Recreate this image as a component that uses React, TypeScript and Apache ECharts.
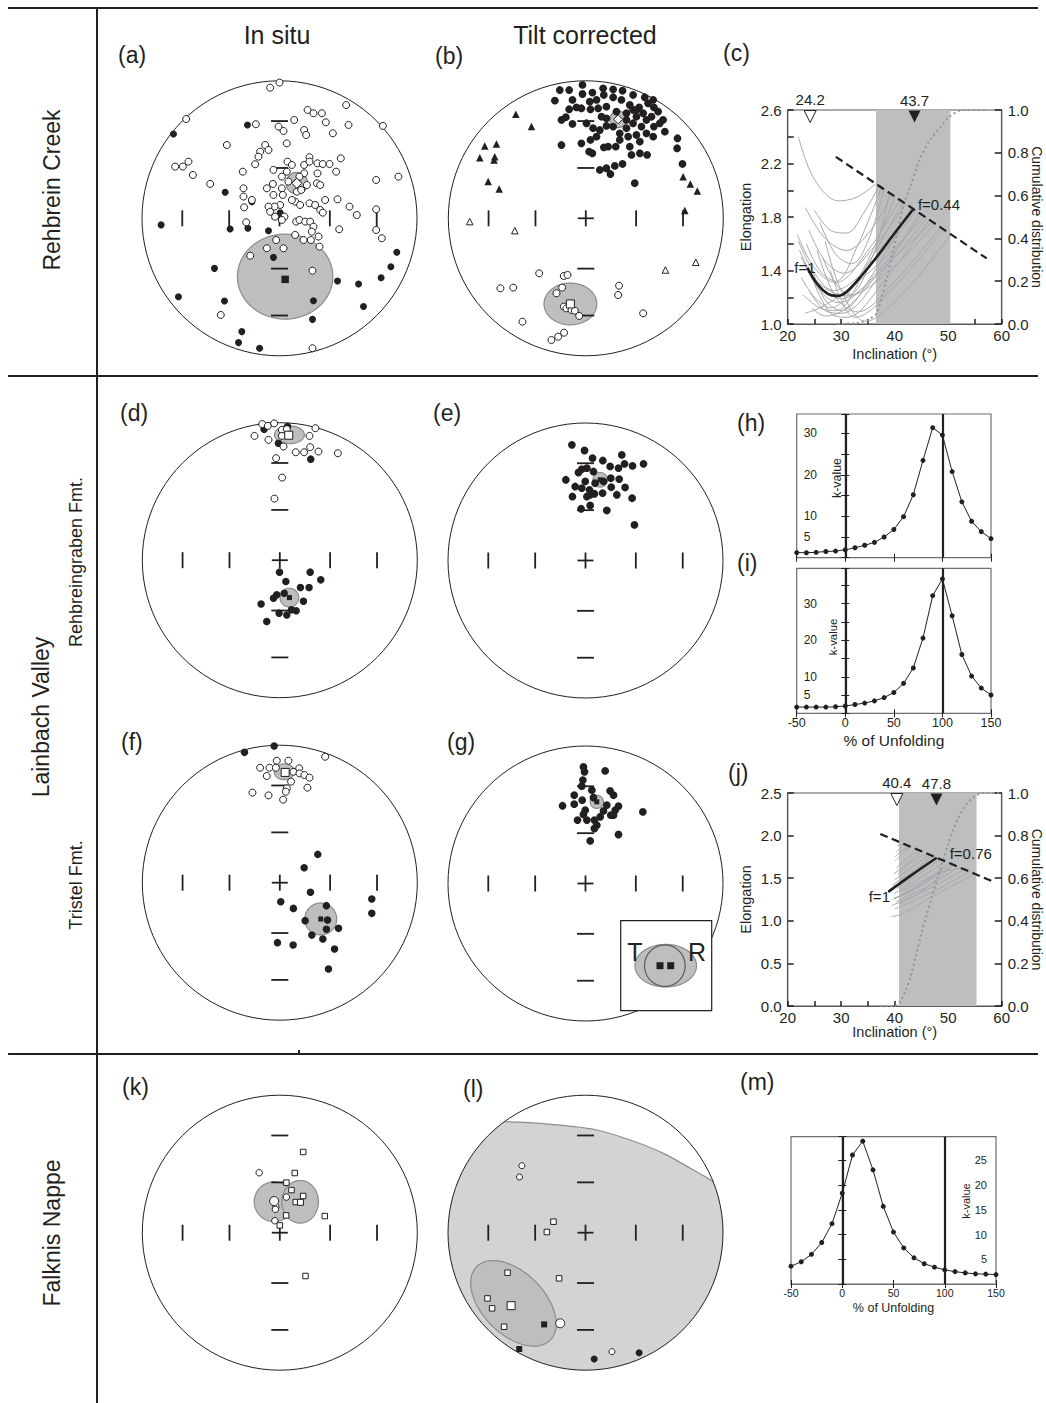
import { useEffect, useRef } from "react";
import * as echarts from "echarts";

type Pt = [number, number];
// centre x, centre y, semi-axis x, semi-axis y, rotation (deg, counter-clockwise)
type Cone = [number, number, number, number, number];

const INK = "#231f20";
const FRAME = "#58595b";
const FONT = "'Liberation Sans', Arial, Helvetica, sans-serif";
const CONE_FILL = "#bcbec0";
const CONE_EDGE = "#8a8c8f";
const REGION_FILL = "#d1d3d4";
const CURVE = "#a7a9ac";
const CDF = "#939598";

// inclinations marked by the ticks on every equal-area net
const TICK_INC = [60, 30];

/* ---------------- (a) Rehbrein Creek, in situ ---------------- */
const aOpen: Pt[] = [
  [-0.068, 0.95], [0.0, 0.987], [-0.679, 0.722], [-0.172, 0.684], [0.107, 0.715], [0.204, 0.788], [0.247, 0.764],
  [0.308, 0.764], [0.337, 0.698], [0.502, 0.679], [0.485, 0.824], [0.388, 0.618], [-0.007, 0.667], [0.029, 0.635],
  [0.179, 0.642], [0.194, 0.606], [-0.383, 0.533], [-0.104, 0.533], [-0.141, 0.485], [-0.153, 0.448], [-0.177, 0.393],
  [-0.08, 0.497], [0.053, 0.545], [-0.759, 0.376], [-0.703, 0.376], [-0.662, 0.412], [-0.63, 0.315], [-0.504, 0.25],
  [-0.267, 0.339], [0.058, 0.412], [0.09, 0.388], [0.179, 0.388], [0.218, 0.444], [0.218, 0.412], [0.276, 0.4],
  [0.315, 0.395], [0.364, 0.395], [0.446, 0.436], [0.412, 0.339], [0.276, 0.327], [0.272, 0.255], [0.296, 0.242],
  [0.179, 0.327], [0.145, 0.303], [0.126, 0.259], [-0.262, 0.218], [-0.262, 0.158], [-0.257, 0.08], [-0.201, 0.133],
  [-0.092, 0.218], [-0.048, 0.25], [-0.044, 0.17], [0.017, 0.218], [0.024, 0.17], [0.126, 0.194], [0.158, 0.206],
  [0.199, 0.242], [0.114, 0.121], [0.005, 0.097], [-0.036, 0.085], [-0.08, 0.085], [-0.068, 0.048], [-0.032, 0.012],
  [0.036, 0.012], [0.017, -0.012], [0.09, 0.133], [0.15, 0.097], [0.218, 0.109], [0.259, 0.097], [0.296, 0.061],
  [0.315, 0.041], [0.332, 0.133], [0.422, 0.138], [0.509, 0.085], [0.562, 0.024], [0.703, 0.279], [0.703, 0.065],
  [0.703, -0.085], [0.744, -0.145], [0.865, 0.303], [0.121, -0.024], [0.145, -0.012], [0.187, -0.024], [0.223, -0.024],
  [0.247, -0.061], [0.235, -0.097], [0.284, -0.133], [0.175, -0.158], [0.114, -0.121], [0.228, -0.158], [0.291, -0.206],
  [0.434, -0.08], [-0.242, -0.029], [-0.024, -0.158], [0.029, -0.218], [-0.092, -0.218], [-0.213, -0.272], [0.24, -0.381],
  [-0.427, -0.703], [0.24, -0.945], [0.752, 0.672], [0.053, 0.339], [-0.044, 0.352], [0.017, 0.303], [0.065, 0.267],
];
const aSolid: Pt[] = [
  [-0.233, 0.679], [-0.771, 0.613], [-0.395, 0.189], [-0.861, -0.048], [-0.359, -0.078], [-0.23, -0.073], [-0.08, -0.09],
  [-0.044, -0.284], [-0.473, -0.364], [-0.735, -0.57], [-0.4, -0.601], [-0.274, -0.824], [-0.298, -0.904], [-0.145, -0.945],
  [0.422, -0.456], [0.575, -0.478], [0.739, -0.432], [0.81, -0.352], [0.853, -0.247], [0.247, -0.599], [0.24, -0.735],
  [0.611, -0.642], [0.005, 0.041], [-0.201, 0.121],
];
const aConesWide: Cone[] = [[0.041, -0.424, 0.347, 0.309, 0]];
const aConesSmall: Cone[] = [[0.126, 0.255, 0.078, 0.078, 0]];
const aMeanSolid: Pt[] = [[0.041, -0.444]];
const aMeanOpen: Pt[] = [[0.126, 0.255]];

/* ---------------- (b) Rehbrein Creek, tilt corrected ---------------- */
const bSolid: Pt[] = [
  [-0.189, 0.933], [-0.121, 0.933], [-0.225, 0.856], [-0.024, 0.97], [0.048, 0.914], [0.126, 0.945], [0.199, 0.938],
  [0.267, 0.928], [0.344, 0.897], [0.429, 0.88], [0.495, 0.807], [0.562, 0.715], [0.526, 0.776], [0.453, 0.836],
  [0.388, 0.807], [0.32, 0.824], [0.259, 0.861], [0.199, 0.88], [0.131, 0.897], [0.078, 0.861], [0.029, 0.848],
  [-0.024, 0.904], [-0.097, 0.861], [-0.068, 0.807], [-0.121, 0.793], [-0.145, 0.735], [-0.097, 0.686], [-0.177, 0.715],
  [-0.032, 0.8], [0.034, 0.793], [0.09, 0.8], [0.114, 0.739], [0.15, 0.812], [0.223, 0.776], [0.296, 0.764],
  [0.368, 0.739], [0.441, 0.715], [0.495, 0.667], [0.575, 0.63], [0.538, 0.691], [0.478, 0.739], [0.405, 0.667],
  [0.344, 0.691], [0.296, 0.655], [0.247, 0.618], [0.199, 0.667], [0.15, 0.672], [0.102, 0.642], [0.053, 0.655],
  [0.005, 0.691], [0.308, 0.594], [0.368, 0.606], [0.441, 0.618], [0.49, 0.594], [0.393, 0.558], [0.32, 0.521],
  [0.247, 0.57], [0.218, 0.521], [0.162, 0.521], [0.131, 0.516], [0.078, 0.594], [0.034, 0.57], [-0.032, 0.545],
  [-0.177, 0.533], [0.024, 0.485], [0.048, 0.473], [0.393, 0.473], [0.446, 0.461], [0.332, 0.461], [0.267, 0.395],
  [0.211, 0.381], [0.15, 0.364], [0.102, 0.352], [0.179, 0.322], [0.667, 0.582], [0.664, 0.509], [0.703, 0.395],
  [0.356, 0.255], [0.344, 0.788], [0.417, 0.764], [0.49, 0.861], [0.15, 0.727], [0.296, 0.715], [0.368, 0.788],
];
const bOpen: Pt[] = [
  [-0.339, -0.4], [-0.621, -0.509], [-0.528, -0.504], [-0.16, -0.419], [-0.133, -0.412], [-0.172, -0.504],
  [-0.213, -0.545], [-0.16, -0.642], [-0.141, -0.655], [-0.104, -0.667], [-0.08, -0.672], [-0.048, -0.71],
  [0.242, -0.49], [0.235, -0.558], [0.417, -0.691], [-0.461, -0.752], [-0.158, -0.832], [-0.201, -0.861], [-0.25, -0.885],
];
const bTriSolid: Pt[] = [
  [-0.509, 0.756], [-0.395, 0.667], [-0.735, 0.526], [-0.65, 0.541], [-0.771, 0.441], [-0.662, 0.448], [-0.667, 0.424],
  [-0.71, 0.267], [-0.63, 0.213], [0.708, 0.303], [0.72, 0.056], [0.76, 0.249], [0.811, 0.199],
];
const bTriOpen: Pt[] = [[-0.844, -0.024], [-0.516, -0.09], [0.579, -0.376], [0.8, -0.32]];
const bConesWide: Cone[] = [[-0.112, -0.623, 0.192, 0.152, 0]];
const bConesSmall: Cone[] = [[0.235, 0.72, 0.06, 0.06, 0]];
const bMeanSquare: Pt[] = [[-0.112, -0.623]];
const bMeanDiamond: Pt[] = [[0.235, 0.72]];

/* ---------------- (d) Lainbach, Rehbreingraben Fmt., in situ ---------------- */
const dOpen: Pt[] = [
  [-0.128, 0.99], [-0.087, 0.977], [-0.041, 0.995], [-0.184, 0.904], [-0.082, 0.875], [0.015, 0.948], [0.051, 0.953],
  [0.027, 0.827], [0.116, 0.785], [0.177, 0.785], [0.221, 0.822], [0.281, 0.79], [0.422, 0.778], [0.216, 0.904],
  [0.259, 0.96], [-0.027, 0.742], [0.017, 0.601], [-0.039, 0.448], [0.015, 0.904],
];
const dSolid: Pt[] = [
  [-0.114, 0.953], [0.056, 0.972], [-0.01, 0.851], [0.225, 0.735],
  [-0.002, -0.087], [0.221, -0.087], [0.298, -0.143], [0.044, -0.155], [0.15, -0.199], [0.213, -0.199], [-0.022, -0.252],
  [-0.046, -0.276], [-0.136, -0.318], [0.172, -0.298], [-0.005, -0.385], [0.051, -0.398], [0.085, -0.361], [0.119, -0.368],
  [-0.095, -0.446], [0.032, -0.24],
];
const dCones: Cone[] = [[0.07, 0.912, 0.109, 0.065, 0], [0.07, -0.272, 0.068, 0.068, 0]];
const dMeanOpen: Pt[] = [[0.065, 0.909]];
const dMeanSolid: Pt[] = [[0.07, -0.272]];

/* ---------------- (e) Lainbach, Rehbreingraben Fmt., tilt corrected ---------------- */
const eSolid: Pt[] = [
  [-0.099, 0.841], [-0.007, 0.8], [0.051, 0.744], [0.126, 0.727], [0.264, 0.768], [0.179, 0.684], [0.24, 0.672],
  [0.284, 0.703], [0.342, 0.688], [0.422, 0.703], [0.01, 0.672], [-0.027, 0.664], [-0.051, 0.64], [0.058, 0.647],
  [-0.143, 0.587], [-0.002, 0.575], [-0.075, 0.538], [-0.027, 0.526], [0.029, 0.514], [0.07, 0.562], [0.034, 0.478],
  [0.065, 0.485], [0.124, 0.49], [0.187, 0.533], [0.184, 0.599], [0.245, 0.592], [0.288, 0.531], [0.228, 0.478],
  [0.339, 0.453], [-0.095, 0.465], [-0.032, 0.376], [0.034, 0.4], [0.155, 0.364], [0.356, 0.259], [0.01, 0.465],
  [0.131, 0.575],
];
const eCones: Cone[] = [[0.107, 0.587, 0.053, 0.053, 0]];
const eMean: Pt[] = [[0.107, 0.587]];

/* ---------------- (f) Lainbach, Tristel Fmt., in situ ---------------- */
const fOpen: Pt[] = [
  [0.33, 0.916], [-0.143, 0.836], [-0.075, 0.836], [-0.022, 0.887], [-0.029, 0.836], [0.063, 0.887], [-0.095, 0.776],
  [0.099, 0.807], [0.141, 0.832], [0.143, 0.795], [0.179, 0.783], [0.216, 0.764], [0.082, 0.735], [0.051, 0.686],
  [0.044, 0.662], [0.201, 0.691], [-0.199, 0.655], [-0.082, 0.635], [0.024, 0.604],
];
const fSolid: Pt[] = [
  [-0.257, 0.948], [-0.041, 0.994],
  [0.276, 0.206], [0.177, 0.109], [0.223, -0.07], [0.007, -0.138], [0.099, -0.187], [0.339, -0.167], [0.184, -0.276],
  [0.347, -0.272], [0.339, -0.339], [0.427, -0.332], [0.233, -0.381], [0.313, -0.41], [0.398, -0.482], [-0.017, -0.436],
  [0.097, -0.453], [0.354, -0.628], [0.669, -0.119], [0.669, -0.223],
];
const fCones: Cone[] = [[0.032, 0.807, 0.073, 0.058, 0], [0.298, -0.264, 0.116, 0.116, 0]];
const fMeanOpen: Pt[] = [[0.039, 0.802]];
const fMeanSolid: Pt[] = [[0.298, -0.264]];

/* ---------------- (g) Lainbach, Tristel Fmt., tilt corrected ---------------- */
const gSolid: Pt[] = [
  [-0.015, 0.848], [-0.007, 0.812], [0.143, 0.819], [-0.019, 0.752], [-0.027, 0.708], [0.046, 0.679], [0.179, 0.674],
  [0.204, 0.642], [-0.082, 0.642], [-0.024, 0.606], [0.058, 0.625], [-0.167, 0.565], [-0.082, 0.577], [-0.002, 0.533],
  [0.155, 0.57], [0.24, 0.562], [0.216, 0.533], [0.184, 0.497], [0.131, 0.528], [0.417, 0.521], [-0.015, 0.502],
  [-0.058, 0.461], [0.01, 0.461], [0.065, 0.461], [0.107, 0.485], [0.082, 0.424], [0.065, 0.4], [0.24, 0.356],
  [0.034, 0.31], [0.204, 0.497],
];
const gCones: Cone[] = [[0.082, 0.594, 0.048, 0.048, 0]];
const gMean: Pt[] = [[0.082, 0.594]];
// reversal-test inset: T and R confidence regions with their means
const insetConeT: Cone[] = [[-0.01, 0, 0.677, 0.473, 0]];
const insetConeR: Cone[] = [[-0.03, 0, 0.446, 0.46, 0]];
const insetMeans: Pt[] = [[-0.136, 0], [0.099, 0]];

/* ---------------- (k) Falknis Nappe, in situ ---------------- */
const kCircles: Pt[] = [[-0.15, 0.436], [0.048, 0.259], [-0.029, 0.189], [-0.032, 0.17], [-0.036, 0.087]];
const kSquares: Pt[] = [
  [0.17, 0.587], [0.109, 0.434], [0.048, 0.364], [0.085, 0.31], [0.17, 0.267], [0.116, 0.223], [0.046, 0.126],
  [0.0, 0.053], [0.327, 0.121], [0.187, -0.315],
];
const kCones: Cone[] = [[-0.041, 0.225, 0.145, 0.145, 0], [0.148, 0.225, 0.133, 0.155, 0]];
const kMeanCircle: Pt[] = [[-0.041, 0.23]];
const kMeanSquare: Pt[] = [[0.15, 0.221]];

/* ---------------- (l) Falknis Nappe, tilt corrected ---------------- */
const lRegionEdge: Pt[] = [
  [-0.584, 0.807], [-0.45, 0.802], [-0.33, 0.795], [-0.12, 0.775], [0.082, 0.747], [0.325, 0.674], [0.567, 0.577],
  [0.785, 0.456], [0.931, 0.371],
];
const lCones: Cone[] = [[-0.524, -0.514, 0.378, 0.225, -45]];
const lSquares: Pt[] = [[-0.567, -0.291], [-0.713, -0.478], [-0.679, -0.55], [-0.592, -0.684], [-0.233, 0.08], [-0.281, 0.005], [-0.192, -0.332]];
const lSquaresSolid: Pt[] = [[-0.301, -0.667], [-0.482, -0.846]];
const lCircles: Pt[] = [[-0.463, 0.487], [-0.48, 0.405], [0.192, -0.865]];
const lCirclesSolid: Pt[] = [[0.063, -0.919], [0.39, -0.873]];
const lMeanSquare: Pt[] = [[-0.541, -0.531]];
const lMeanCircle: Pt[] = [[-0.184, -0.659]];

/* ---------------- (c) E/I analysis, Rehbrein Creek ---------------- */
const cBand: Pt = [36.5, 50.4];
const cIncOpen = 24.2;
const cIncSolid = 43.7;
const cBootstrap: Pt[][] = [
  [[22.0, 2.4], [25.0, 2.08], [29.5, 1.92], [33.0, 1.95], [36.5, 2.05]],
  [[23.3, 1.87], [27.0, 1.64], [31.0, 1.55], [35.5, 1.7], [39.5, 1.97]],
  [[21.8, 1.67], [25.0, 1.42], [29.0, 1.31], [35.0, 1.55], [41.0, 1.93]],
  [[22.0, 1.62], [25.0, 1.38], [28.5, 1.25], [36.0, 1.46], [44.0, 1.85]],
  [[22.2, 1.55], [26.0, 1.28], [30.0, 1.19], [38.0, 1.42], [46.0, 1.79]],
  [[22.5, 1.5], [26.0, 1.3], [31.0, 1.21], [39.0, 1.4], [47.5, 1.75]],
  [[23.0, 1.46], [26.0, 1.25], [29.5, 1.16], [37.0, 1.4], [45.0, 1.82]],
  [[23.2, 1.08], [26.0, 1.12], [30.0, 1.22], [37.0, 1.45], [45.5, 1.8]],
  [[25.5, 1.55], [29.0, 1.2], [33.0, 1.09], [40.0, 1.32], [48.5, 1.72]],
  [[27.0, 1.62], [30.0, 1.25], [34.5, 1.02], [42.0, 1.25], [50.5, 1.67]],
  [[26.0, 1.76], [29.0, 1.52], [32.0, 1.45], [35.0, 1.62], [38.0, 2.01]],
  [[24.0, 1.7], [27.0, 1.47], [30.5, 1.38], [36.0, 1.57], [42.0, 1.9]],
  [[22.5, 1.35], [25.0, 1.2], [28.0, 1.12], [34.0, 1.4], [40.0, 1.95]],
  [[24.5, 1.42], [27.0, 1.18], [30.0, 1.1], [36.0, 1.38], [43.0, 1.87]],
  [[25.0, 1.3], [28.0, 1.08], [31.0, 1.05], [38.0, 1.32], [46.5, 1.78]],
  [[24.0, 1.25], [27.0, 1.1], [30.0, 1.08], [37.0, 1.35], [44.5, 1.83]],
  [[22.8, 1.22], [26.0, 1.12], [29.0, 1.1], [35.0, 1.45], [41.5, 1.91]],
  [[28.0, 1.4], [30.0, 1.18], [32.5, 1.05], [40.0, 1.28], [49.0, 1.71]],
  [[26.5, 1.5], [29.0, 1.3], [31.5, 1.22], [36.0, 1.52], [39.0, 1.98]],
  [[23.5, 1.6], [26.0, 1.4], [29.0, 1.32], [33.0, 1.58], [37.5, 2.02]],
  [[25.0, 1.85], [28.0, 1.7], [31.0, 1.68], [34.5, 1.85], [37.0, 2.03]],
  [[24.5, 1.12], [27.0, 1.06], [31.0, 1.12], [38.0, 1.42], [47.0, 1.76]],
];
const cFlattening: Pt[] = [[23.7, 1.42], [25.5, 1.3], [27.5, 1.225], [29.2, 1.21], [31.0, 1.24], [34.0, 1.37], [37.0, 1.52], [40.0, 1.68], [43.5, 1.86]];
const cTk03: Pt[] = [[29.0, 2.25], [57.2, 1.49]];
const cCumulative: Pt[] = [
  [29.2, 0], [33.0, 0.005], [35.0, 0.02], [36.6, 0.05], [37.5, 0.12], [38.5, 0.21], [39.5, 0.32], [40.4, 0.42],
  [41.6, 0.55], [42.9, 0.64], [44.7, 0.77], [46.6, 0.86], [48.5, 0.92], [50.3, 0.97], [52.8, 1.0], [57.2, 1.0],
];
const cFLabels = ["f=1", "f=0.44"];

/* ---------------- (j) E/I analysis, Tristel Fmt. ---------------- */
const jBand: Pt = [40.8, 55.3];
const jIncOpen = 40.4;
const jIncSolid = 47.8;
const jBootstrap: Pt[][] = [
  [[40.2, 1.8], [41.0, 1.85], [41.8, 1.9]],
  [[40.0, 1.7], [41.5, 1.79], [43.0, 1.87]],
  [[40.3, 1.62], [42.5, 1.74], [44.5, 1.83]],
  [[39.8, 1.55], [42.3, 1.67], [45.0, 1.81]],
  [[40.0, 1.48], [43.2, 1.63], [46.5, 1.77]],
  [[39.6, 1.42], [43.3, 1.58], [47.0, 1.76]],
  [[40.4, 1.38], [44.4, 1.54], [48.5, 1.72]],
  [[39.9, 1.32], [44.6, 1.5], [49.5, 1.7]],
  [[40.6, 1.28], [45.5, 1.46], [50.5, 1.67]],
  [[39.7, 1.25], [45.3, 1.43], [51.0, 1.66]],
  [[40.2, 1.22], [46.0, 1.4], [52.0, 1.63]],
  [[39.5, 1.18], [46.2, 1.37], [53.0, 1.6]],
  [[40.0, 1.14], [46.8, 1.33], [54.0, 1.58]],
  [[39.4, 1.05], [41.0, 1.07], [47.5, 1.3], [55.0, 1.55]],
  [[41.0, 1.45], [44.0, 1.59], [47.0, 1.76]],
  [[40.6, 1.55], [43.2, 1.69], [46.0, 1.79]],
  [[40.9, 1.2], [44.0, 1.3], [47.5, 1.47], [51.0, 1.66]],
  [[41.2, 1.35], [45.0, 1.46], [48.5, 1.57], [52.5, 1.62]],
  [[40.1, 1.75], [41.5, 1.83], [42.8, 1.87]],
  [[39.9, 1.27], [43.0, 1.34], [46.2, 1.47], [50.0, 1.68]],
  [[40.5, 1.88], [41.3, 1.9]],
  [[39.8, 1.4], [42.0, 1.47], [45.0, 1.62], [48.0, 1.73]],
];
const jFlattening: Pt[] = [[38.8, 1.34], [43.0, 1.53], [47.85, 1.74]];
const jTk03: Pt[] = [[37.3, 2.02], [58.8, 1.45]];
const jCumulative: Pt[] = [
  [37.3, 0], [40.0, 0.0], [41.0, 0.02], [42.0, 0.07], [43.0, 0.14], [44.0, 0.24], [45.0, 0.34], [46.0, 0.43],
  [47.0, 0.52], [48.0, 0.6], [49.0, 0.68], [50.0, 0.76], [51.0, 0.83], [52.0, 0.89], [53.5, 0.95], [55.0, 0.985],
  [56.5, 1.0], [60.0, 1.0],
];
const jFLabels = ["f=1", "f=0.76"];

/* ---------------- (h), (i), (m) fold tests ---------------- */
const unfolding = [-50, -40, -30, -20, -10, 0, 10, 20, 30, 40, 50, 60, 70, 80, 90, 100, 110, 120, 130, 140, 150];
const kValuesH = [1.24, 1.2, 1.3, 1.5, 1.6, 1.9, 2.4, 3.0, 3.7, 5.0, 6.8, 9.9, 15.2, 23.5, 31.4, 29.6, 20.8, 13.5, 8.8, 6.3, 4.6];
const kValuesI = [1.7, 1.7, 1.7, 1.7, 1.8, 2.0, 2.4, 2.8, 3.4, 4.3, 5.7, 8.2, 12.4, 20.6, 32.2, 36.8, 26.7, 16.1, 10.2, 6.9, 5.0];
const kValuesM = [3.6, 4.5, 6.0, 8.4, 12.2, 18.4, 26.1, 28.9, 23.1, 15.7, 10.5, 7.3, 5.3, 4.1, 3.4, 2.85, 2.5, 2.25, 2.05, 2.0, 1.9];
const kLabelsHI = [5, 10, 20, 30];
const kLabelsM = [5, 10, 15, 20, 25];
const unfoldingRefs = [0, 100];

/* ================= option builders ================= */
const grids: any[] = [];
const xAxes: any[] = [];
const yAxes: any[] = [];
const series: any[] = [];
// f-value notes placed next to the ends of each flattening curve once the axes exist
const fNotes: any[] = [];

const NET_R = 137.5;
const tickRadii = TICK_INC.map((i) => Math.SQRT2 * Math.sin(((90 - i) / 2) * (Math.PI / 180)));

function addGrid(left: number, top: number, width: number, height: number, border: boolean, color = FRAME) {
  grids.push({
    left, top, width, height, containLabel: false, outerBoundsMode: "none",
    show: border, borderColor: color, borderWidth: 1.2, backgroundColor: "transparent",
  });
  return grids.length - 1;
}

function hiddenAxes(gi: number) {
  xAxes.push({ gridIndex: gi, type: "value", min: -1, max: 1, show: false });
  yAxes.push({ gridIndex: gi, type: "value", min: -1, max: 1, show: false });
  return xAxes.length - 1;
}

function coneSeries(ai: number, cones: Cone[], z: number, edge = CONE_EDGE, fill = CONE_FILL) {
  return {
    type: "custom", xAxisIndex: ai, yAxisIndex: ai, data: cones, z, silent: true, clip: false,
    renderItem: (_p: any, api: any) => {
      const c = api.coord([api.value(0), api.value(1)]);
      const unit = api.size([1, 1]);
      const a = api.value(2) * unit[0];
      const b = api.value(3) * unit[1];
      const r = (api.value(4) * Math.PI) / 180;
      const pts: number[][] = [];
      for (let k = 0; k < 120; k++) {
        const t = (k / 120) * Math.PI * 2;
        const ex = a * Math.cos(t);
        const ey = b * Math.sin(t);
        pts.push([c[0] + ex * Math.cos(r) - ey * Math.sin(r), c[1] - (ex * Math.sin(r) + ey * Math.cos(r))]);
      }
      return { type: "polygon", shape: { points: pts }, style: { fill, stroke: edge, lineWidth: 1.2 } };
    },
  };
}

function frameSeries(ai: number) {
  return {
    type: "custom", xAxisIndex: ai, yAxisIndex: ai, data: [[0, 0]], z: 3, silent: true, clip: false,
    renderItem: (_p: any, api: any) => {
      const c = api.coord([0, 0]);
      const R = api.size([1, 1])[0];
      const ln = (x1: number, y1: number, x2: number, y2: number) => ({
        type: "line", shape: { x1, y1, x2, y2 }, style: { stroke: INK, lineWidth: 1.8 },
      });
      const kids: any[] = [
        { type: "circle", shape: { cx: c[0], cy: c[1], r: R }, style: { fill: "none", stroke: INK, lineWidth: 1 } },
        ln(c[0] - 8, c[1], c[0] + 8, c[1]),
        ln(c[0], c[1] - 8, c[0], c[1] + 8),
      ];
      for (const t of tickRadii) {
        for (const s of [-1, 1]) {
          const d = s * t * R;
          kids.push(ln(c[0] + d, c[1] - 8, c[0] + d, c[1] + 8));
          kids.push(ln(c[0] - 8.5, c[1] + d, c[0] + 8.5, c[1] + d));
        }
      }
      return { type: "group", children: kids };
    },
  };
}

function regionSeries(ai: number, edgePts: Pt[]) {
  return {
    type: "custom", xAxisIndex: ai, yAxisIndex: ai, data: [[0, 0]], z: 1, silent: true, clip: false,
    renderItem: (_p: any, api: any) => {
      const c = api.coord([0, 0]);
      const R = api.size([1, 1])[0];
      const edge = edgePts.map((q) => api.coord(q));
      const last = edgePts[edgePts.length - 1];
      const a0 = Math.atan2(last[1], last[0]);
      const a1 = Math.atan2(edgePts[0][1], edgePts[0][0]) - Math.PI * 2;
      const arc: number[][] = [];
      for (let k = 0; k <= 120; k++) {
        const t = a0 + ((a1 - a0) * k) / 120;
        arc.push([c[0] + R * Math.cos(t), c[1] - R * Math.sin(t)]);
      }
      return {
        type: "group",
        children: [
          { type: "polygon", shape: { points: edge.concat(arc) }, style: { fill: REGION_FILL, stroke: "none" } },
          { type: "polyline", shape: { points: edge, smooth: 0.3 }, style: { fill: "none", stroke: "#8a8c8f", lineWidth: 1.2 } },
        ],
      };
    },
  };
}

function marks(ai: number, data: Pt[], symbol: string, size: number, open: boolean, z = 5, rotate = 0) {
  return {
    type: "scatter", xAxisIndex: ai, yAxisIndex: ai, data, symbol, symbolSize: size, symbolRotate: rotate,
    itemStyle: open ? { color: "#ffffff", borderColor: INK, borderWidth: 1, opacity: 1 } : { color: INK, borderWidth: 0, opacity: 1 },
    z, silent: true, clip: false,
  };
}

function net(cx: number, cy: number) {
  const gi = addGrid(cx - NET_R, cy - NET_R, NET_R * 2, NET_R * 2, false);
  return hiddenAxes(gi);
}

// ---- stereonets ----
{
  const a = net(279.5, 218.3);
  series.push(coneSeries(a, aConesWide, 2), coneSeries(a, aConesSmall, 2, "#7d7f82"), frameSeries(a));
  series.push(marks(a, aSolid, "circle", 7, false), marks(a, aOpen, "circle", 7, true));
  series.push(marks(a, aMeanSolid, "rect", 7.5, false, 6), marks(a, aMeanOpen, "diamond", 10, true, 6));

  const b = net(585.8, 218.3);
  series.push(coneSeries(b, bConesWide, 2), coneSeries(b, bConesSmall, 2, "#7d7f82"), frameSeries(b));
  series.push(marks(b, bSolid, "circle", 7.8, false), marks(b, bOpen, "circle", 7, true));
  series.push(marks(b, bTriSolid, "triangle", 7.5, false), marks(b, bTriOpen, "triangle", 6.5, true));
  series.push(marks(b, bMeanSquare, "rect", 8, true, 6), marks(b, bMeanDiamond, "diamond", 9, true, 6));

  const d = net(279.8, 560.2);
  series.push(coneSeries(d, dCones, 2), frameSeries(d));
  series.push(marks(d, dSolid, "circle", 7.5, false), marks(d, dOpen, "circle", 7, true));
  series.push(marks(d, dMeanOpen, "rect", 8, true, 6), marks(d, dMeanSolid, "rect", 5, false, 6));

  const e = net(585.5, 560.5);
  series.push(coneSeries(e, eCones, 2), frameSeries(e));
  series.push(marks(e, eSolid, "circle", 7.8, false), marks(e, eMean, "rect", 5, false, 6));

  const f = net(279.8, 882.7);
  series.push(coneSeries(f, fCones, 2), frameSeries(f));
  series.push(marks(f, fSolid, "circle", 7.5, false), marks(f, fOpen, "circle", 7, true));
  series.push(marks(f, fMeanOpen, "rect", 8, true, 6), marks(f, fMeanSolid, "rect", 5, false, 6));

  const g = net(585.5, 883.5);
  series.push(coneSeries(g, gCones, 2), frameSeries(g));
  series.push(marks(g, gSolid, "circle", 7.8, false), marks(g, gMean, "rect", 5, false, 6));

  const inset = hiddenAxes(addGrid(620.7, 920.7, 91, 90, false));
  series.push({
    type: "custom", xAxisIndex: inset, yAxisIndex: inset, data: [[0, 0]], z: 7, silent: true,
    renderItem: (_p: any, api: any) => {
      const p0 = api.coord([-1, 1]);
      const p1 = api.coord([1, -1]);
      return { type: "rect", shape: { x: p0[0], y: p0[1], width: p1[0] - p0[0], height: p1[1] - p0[1] }, style: { fill: "#ffffff", stroke: INK, lineWidth: 1.2 } };
    },
  });
  series.push(coneSeries(inset, insetConeT, 8), coneSeries(inset, insetConeR, 9, "#58595b"));
  series.push(marks(inset, insetMeans, "rect", 7, false, 10));

  const k = net(279.8, 1232.7);
  series.push(coneSeries(k, kCones, 2), frameSeries(k));
  series.push(marks(k, kCircles, "circle", 6.5, true), marks(k, kSquares, "rect", 5.5, true));
  series.push(marks(k, kMeanCircle, "circle", 9, true, 6), marks(k, kMeanSquare, "rect", 6, true, 6));

  const l = net(585.5, 1232.7);
  series.push(regionSeries(l, lRegionEdge), coneSeries(l, lCones, 2), frameSeries(l));
  series.push(marks(l, lSquares, "rect", 5.5, true), marks(l, lSquaresSolid, "rect", 6, false));
  series.push(marks(l, lCircles, "circle", 6, true), marks(l, lCirclesSolid, "circle", 7, false));
  series.push(marks(l, lMeanSquare, "rect", 8, true, 6), marks(l, lMeanCircle, "circle", 9, true, 6));
}

// ---- elongation / inclination plots ----
const nameStyle = (size: number) => ({ color: INK, fontSize: size, fontFamily: FONT });

function lineSeries(xi: number, yi: number, data: Pt[], style: any, z: number, smooth: number) {
  return {
    type: "line", xAxisIndex: xi, yAxisIndex: yi, data, smooth, symbol: "none", showSymbol: false,
    lineStyle: style, z, silent: true, clip: false,
  };
}

function eiPlot(o: {
  top: number; yMin: number; yMax: number; yStep: number; labelEvery: number; band: Pt;
  curves: Pt[][]; flat: Pt[]; tk03: Pt[]; cdf: Pt[]; incOpen: number; incSolid: number; fLabels: string[];
  nameGapX: number; startShift: number[]; startAlign: string; endShift: number[];
}) {
  const height = o.yMax === 2.6 ? 214 : 213;
  const gi = addGrid(787.7, o.top, 214, height, true);
  xAxes.push({
    gridIndex: gi, type: "value", min: 20, max: 60, interval: 5,
    axisLine: { show: true, lineStyle: { color: FRAME, width: 1.2 } },
    axisTick: { show: true, inside: true, length: 5, lineStyle: { color: INK, width: 1.5 } },
    axisLabel: { color: INK, fontSize: 15, fontFamily: FONT, margin: 4, formatter: (v: number) => (v % 10 === 0 ? String(v) : "") },
    splitLine: { show: false },
    name: "Inclination (°)", nameLocation: "middle", nameGap: o.nameGapX, nameMoveOverlap: false, nameTextStyle: nameStyle(14.5),
  });
  const xi = xAxes.length - 1;
  yAxes.push({
    gridIndex: gi, type: "value", position: "left", min: o.yMin, max: o.yMax, interval: o.yStep,
    axisLine: { show: true, lineStyle: { color: FRAME, width: 1.2 } },
    axisTick: { show: true, inside: true, length: 6, lineStyle: { color: INK, width: 1.5 } },
    axisLabel: {
      color: INK, fontSize: 15, fontFamily: FONT, margin: 6,
      formatter: (v: number) => (Math.round((v - o.yMin) / o.yStep) % o.labelEvery === 0 ? v.toFixed(1) : ""),
    },
    splitLine: { show: false },
    name: "Elongation", nameLocation: "middle", nameGap: 34, nameMoveOverlap: false, nameTextStyle: nameStyle(14.5),
  });
  const yl = yAxes.length - 1;
  yAxes.push({
    gridIndex: gi, type: "value", position: "right", min: 0, max: 1, interval: 0.2,
    axisLine: { show: true, lineStyle: { color: FRAME, width: 1.2 } },
    axisTick: { show: true, inside: true, length: 7, lineStyle: { color: INK, width: 1.5 } },
    axisLabel: { color: INK, fontSize: 15, fontFamily: FONT, margin: 6, formatter: (v: number) => v.toFixed(1) },
    splitLine: { show: false },
    name: "Cumulative distribution", nameLocation: "middle", nameGap: 28, nameRotate: -90, nameMoveOverlap: false,
    nameTextStyle: nameStyle(14),
  });
  const yr = yAxes.length - 1;

  series.push({
    type: "custom", xAxisIndex: xi, yAxisIndex: yl, data: [o.band], encode: { x: [0, 1] }, z: 1, silent: true,
    renderItem: (_p: any, api: any) => {
      const p0 = api.coord([api.value(0), o.yMax]);
      const p1 = api.coord([api.value(1), o.yMin]);
      return { type: "rect", shape: { x: p0[0], y: p0[1], width: p1[0] - p0[0], height: p1[1] - p0[1] }, style: { fill: CONE_FILL } };
    },
  });
  o.curves.forEach((c) => series.push(lineSeries(xi, yl, c, { color: CURVE, width: 1 }, 3, 0.35)));
  series.push(lineSeries(xi, yr, o.cdf, { color: CDF, width: 2, type: [2, 3] }, 4, 0.3));
  series.push(lineSeries(xi, yl, o.tk03, { color: INK, width: 2.2, type: [8, 4.5] }, 5, 0));
  series.push(lineSeries(xi, yl, o.flat, { color: INK, width: 2.6 }, 6, 0.35));

  const triY = o.yMax - (6.5 * (o.yMax - o.yMin)) / height;
  const triLabel = {
    show: true, position: "top", distance: 3, color: INK, fontSize: 15, fontFamily: FONT, textBorderWidth: 0,
    formatter: (p: any) => p.value[0].toFixed(1),
  };
  series.push({
    type: "scatter", xAxisIndex: xi, yAxisIndex: yl, data: [[o.incOpen, triY]], symbol: "triangle", symbolRotate: 180,
    symbolSize: [12, 12], itemStyle: { color: "#ffffff", borderColor: INK, borderWidth: 1, opacity: 1 }, label: triLabel, z: 7, silent: true, clip: false,
  });
  series.push({
    type: "scatter", xAxisIndex: xi, yAxisIndex: yl, data: [[o.incSolid, triY]], symbol: "triangle", symbolRotate: 180,
    symbolSize: [12, 12], itemStyle: { color: INK, opacity: 1 }, label: triLabel, z: 7, silent: true, clip: false,
  });
  fNotes.push({
    xi, yi: yl, first: o.flat[0], last: o.flat[o.flat.length - 1], labels: o.fLabels,
    startShift: o.startShift, startAlign: o.startAlign, endShift: o.endShift,
  });
}

eiPlot({
  top: 110, yMin: 1.0, yMax: 2.6, yStep: 0.2, labelEvery: 2, band: cBand, curves: cBootstrap, flat: cFlattening,
  tk03: cTk03, cdf: cCumulative, incOpen: cIncOpen, incSolid: cIncSolid, fLabels: cFLabels, nameGapX: 22,
  startShift: [-2.5, 0], startAlign: "center", endShift: [4.5, -4],
});
eiPlot({
  top: 793, yMin: 0, yMax: 2.5, yStep: 0.5, labelEvery: 1, band: jBand, curves: jBootstrap, flat: jFlattening,
  tk03: jTk03, cdf: jCumulative, incOpen: jIncOpen, incSolid: jIncSolid, fLabels: jFLabels, nameGapX: 18,
  startShift: [1.7, 5], startAlign: "right", endShift: [13, -4],
});

// ---- fold tests (k-value against % of unfolding) ----
function kPlot(o: {
  left: number; top: number; width: number; height: number; yMax: number; values: number[]; labels: number[];
  labelSide: "left" | "right"; showX: boolean; tickFont: number; xFont: number; nameFont: number; xGap: number; labelMargin: number;
}) {
  const gi = addGrid(o.left, o.top, o.width, o.height, true, "#6d6e71");
  const tick = { show: true, inside: true, length: 4, lineStyle: { color: INK, width: 1 } };
  const line = { show: true, lineStyle: { color: "#6d6e71", width: 1.2 } };
  xAxes.push({
    gridIndex: gi, type: "value", position: "bottom", min: -50, max: 150, interval: 50, axisLine: line, axisTick: tick,
    axisLabel: { show: o.showX, color: INK, fontSize: o.xFont, fontFamily: FONT, margin: 3 }, splitLine: { show: false },
    name: o.showX ? "% of Unfolding" : "", nameLocation: "middle", nameGap: o.xGap, nameMoveOverlap: false, nameTextStyle: nameStyle(o.nameFont),
  });
  const xi = xAxes.length - 1;
  xAxes.push({
    gridIndex: gi, type: "value", position: "top", min: -50, max: 150, interval: 50, axisLine: line, axisTick: tick,
    axisLabel: { show: false }, splitLine: { show: false },
  });
  const lab = (side: string) => ({
    show: o.labelSide === side, inside: true, color: INK, fontSize: o.tickFont, fontFamily: FONT, margin: o.labelMargin,
    formatter: (v: number) => (o.labels.includes(v) ? String(v) : ""),
  });
  yAxes.push({
    gridIndex: gi, type: "value", position: "left", min: 0, max: o.yMax, interval: 5, axisLine: line, axisTick: tick,
    axisLabel: lab("left"), splitLine: { show: false },
  });
  const yi = yAxes.length - 1;
  yAxes.push({
    gridIndex: gi, type: "value", position: "right", min: 0, max: o.yMax, interval: 5, axisLine: line, axisTick: tick,
    axisLabel: lab("right"), splitLine: { show: false },
  });
  series.push({
    type: "line", xAxisIndex: xi, yAxisIndex: yi, data: unfolding.map((u, i) => [u, o.values[i]]),
    symbol: "circle", symbolSize: 5, itemStyle: { color: INK, opacity: 1 }, lineStyle: { color: INK, width: 1 }, z: 4, silent: true, clip: false,
    markLine: {
      silent: true, symbol: ["none", "none"], label: { show: false }, animation: false,
      lineStyle: { color: INK, width: 2.2, type: "solid" }, data: unfoldingRefs.map((u) => ({ xAxis: u })),
    },
  });
}

kPlot({ left: 796.7, top: 414, width: 194.3, height: 143.7, yMax: 34.7, values: kValuesH, labels: kLabelsHI, labelSide: "left", showX: false, tickFont: 12, xFont: 12.5, nameFont: 15.5, xGap: 19, labelMargin: 7 });
kPlot({ left: 796.7, top: 568.3, width: 194.3, height: 145, yMax: 39.7, values: kValuesI, labels: kLabelsHI, labelSide: "left", showX: true, tickFont: 12, xFont: 12.5, nameFont: 15.5, xGap: 19, labelMargin: 7 });
kPlot({ left: 791, top: 1136.7, width: 205, height: 147.3, yMax: 29.8, values: kValuesM, labels: kLabelsM, labelSide: "right", showX: true, tickFont: 11, xFont: 10.5, nameFont: 12.5, xGap: 17, labelMargin: 9 });

/* ================= page furniture ================= */
const text = (t: string, x: number, y: number, size: number, align = "center", rotation = 0) => ({
  type: "text", x, y, rotation, silent: true, z: 50,
  style: {
    text: t, fill: INK, fontSize: size, fontFamily: FONT,
    align, verticalAlign: "middle", textAlign: align, textVerticalAlign: "middle",
  },
});
const rule = (x1: number, y1: number, x2: number, y2: number) => ({
  type: "line", silent: true, z: 50, shape: { x1, y1, x2, y2 }, style: { stroke: INK, lineWidth: 2 },
});

const graphics: any[] = [
  rule(8, 8, 1038, 8), rule(8, 376, 1038, 376), rule(8, 1054, 1038, 1054), rule(97, 8, 97, 1403), rule(299, 1050, 299, 1054),
  text("In situ", 277, 35, 25), text("Tilt corrected", 585, 35, 25),
  text("Rehbrein Creek", 52, 190, 23, "center", Math.PI / 2),
  text("Lainbach Valley", 41, 717, 23, "center", Math.PI / 2),
  text("Rehbreingraben Fmt.", 76, 562, 18, "center", Math.PI / 2),
  text("Tristel Fmt.", 76, 885, 18, "center", Math.PI / 2),
  text("Falknis Nappe", 52, 1233, 23, "center", Math.PI / 2),
  text("(a)", 118, 55, 23, "left"), text("(b)", 435, 56, 23, "left"), text("(c)", 723, 53, 23, "left"),
  text("(d)", 120, 413, 23, "left"), text("(e)", 433, 413, 23, "left"), text("(h)", 737, 423, 23, "left"),
  text("(i)", 737, 563, 23, "left"), text("(f)", 121, 742, 23, "left"), text("(g)", 447, 742, 23, "left"),
  text("(j)", 728, 773, 23, "left"), text("(k)", 122, 1087, 23, "left"), text("(l)", 463, 1089, 23, "left"),
  text("(m)", 740, 1082, 23, "left"),
  text("k-value", 836.7, 478, 12.4, "center", Math.PI / 2),
  text("k-value", 833.3, 637, 11.4, "center", Math.PI / 2),
  text("k-value", 965.8, 1201, 11, "center", Math.PI / 2),
  { ...text("T", 635, 952, 25), z: 60 },
  { ...text("R", 697, 952, 25), z: 60 },
];

function buildOption() {
  return {
    animation: false,
    backgroundColor: "#ffffff",
    textStyle: { fontFamily: FONT },
    grid: grids,
    xAxis: xAxes,
    yAxis: yAxes,
    series,
    graphic: { elements: graphics },
  };
}

export default function App() {
  const ref = useRef<HTMLDivElement>(null);
  useEffect(() => {
    if (!ref.current) return;
    const chart = echarts.init(ref.current, undefined, { renderer: "svg" });
    chart.setOption(buildOption() as any);
    // place the f annotations at the pixel ends of each flattening curve
    const notes = fNotes.flatMap((n) => {
      const finder = { xAxisIndex: n.xi, yAxisIndex: n.yi };
      const p0 = chart.convertToPixel(finder as any, n.first) as number[];
      const p1 = chart.convertToPixel(finder as any, n.last) as number[];
      return [
        { ...text(n.labels[0], p0[0] + n.startShift[0], p0[1] + n.startShift[1], 15, n.startAlign), z: 70 },
        { ...text(n.labels[1], p1[0] + n.endShift[0], p1[1] + n.endShift[1], 15, "left"), z: 70 },
      ];
    });
    chart.setOption({ graphic: { elements: graphics.concat(notes) } } as any);
    return () => chart.dispose();
  }, []);
  return <div ref={ref} style={{ position: "absolute", left: 0, top: 0, width: 1046, height: 1403, background: "#fff" }} />;
}
